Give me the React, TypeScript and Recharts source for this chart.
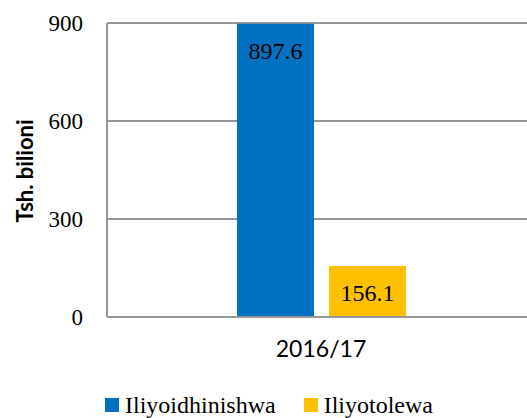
import { BarChart, Bar, XAxis, YAxis, CartesianGrid, Legend, LabelList } from "recharts";

const categories = ["2016/17"];
const approved = [897.6];
const released = [156.1];
const yTicks = [0, 300, 600, 900];

const SERIES = [
  { key: "approved", name: "Iliyoidhinishwa", color: "#0070C0" },
  { key: "released", name: "Iliyotolewa", color: "#FFC000" },
];

const data = categories.map((c, i) => ({
  year: c,
  approved: approved[i],
  released: released[i],
}));

const serif = "'Liberation Serif', serif";
const sans = "Lato, 'Noto Sans', sans-serif";

// legend drawn by hand so the squares and serif labels sit like the original
const LegendBox = () => (
  <div
    style={{
      display: "flex",
      paddingLeft: 105,
      paddingTop: 20,
      fontFamily: serif,
      fontSize: 24,
      color: "#000",
      height: 46,
      boxSizing: "border-box",
    }}
  >
    {SERIES.map((s) => (
      <div key={s.key} style={{ display: "flex", alignItems: "center", marginRight: 28, height: 26 }}>
        <span style={{ width: 14, height: 14, background: s.color, display: "inline-block", marginRight: 6 }} />
        <span style={{ lineHeight: "26px" }}>{s.name}</span>
      </div>
    ))}
  </div>
);

const App = () => {
  return (
    <div style={{ position: "absolute", left: 0, top: 0, width: 527, height: 418, overflow: "hidden", background: "#fff" }}>
      <div style={{ position: "absolute", left: 24, top: 171, transform: "translate(-50%, -50%) rotate(-90deg)", fontFamily: sans, fontWeight: 700, fontSize: 22, whiteSpace: "nowrap" }}>
        Tsh. bilioni
      </div>
      <BarChart
        width={540}
        height={418}
        data={data}
        margin={{ top: 23, right: 5, bottom: 0, left: 0 }}
        barSize={77}
        barGap={15}
      >
        <CartesianGrid vertical={false} stroke="#969696" strokeWidth={2} />
        <XAxis
          dataKey="year"
          axisLine={{ stroke: "#969696", strokeWidth: 2 }}
          tickLine={false}
          tickSize={0}
          tickMargin={24}
          height={55}
          tick={{ fill: "#000", fontSize: 23, fontFamily: sans }}
        />
        <YAxis
          width={107}
          domain={[0, 900]}
          ticks={yTicks}
          axisLine={{ stroke: "#969696", strokeWidth: 2 }}
          tickLine={false}
          tickSize={0}
          tickMargin={24}
          tick={{ fill: "#000", fontSize: 23, fontFamily: serif }}
        />
        <Legend verticalAlign="bottom" height={46} content={<LegendBox />} />
        {SERIES.map((s) => (
          <Bar key={s.key} dataKey={s.key} name={s.name} fill={s.color} isAnimationActive={false}>
            <LabelList
              dataKey={s.key}
              position="insideTop"
              offset={18}
              style={{ fill: "#000", fontSize: 24, fontFamily: serif }}
              formatter={(v: number) => v.toFixed(1)}
            />
          </Bar>
        ))}
      </BarChart>
    </div>
  );
};

export default App;
